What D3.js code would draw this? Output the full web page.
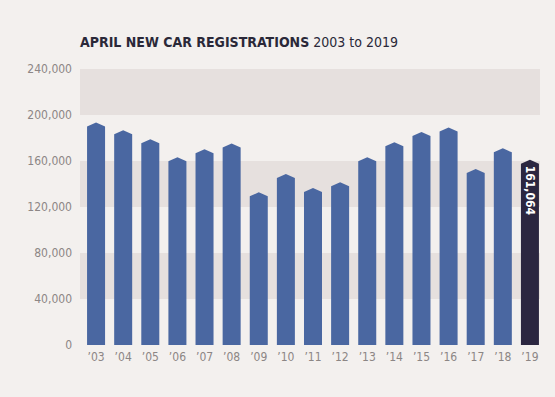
<!DOCTYPE html>
<html>
<head>
<meta charset="utf-8">
<title>April new car registrations</title>
<script src="https://cdnjs.cloudflare.com/ajax/libs/d3/7.8.5/d3.min.js"></script>
<style>
  body { margin: 0; background: #f3f0ee; }
  svg { display: block; }
  .tick-label { font-family: "DejaVu Sans Condensed", "DejaVu Sans", sans-serif; font-size: 12px; fill: #8c8685; }
</style>
</head>
<body>
<svg id="chart" width="555" height="397"></svg>
<script>
// data
var years = ["’03","’04","’05","’06","’07","’08","’09","’10","’11","’12","’13","’14","’15","’16","’17","’18","’19"];
var values = [193500, 186800, 179000, 163300, 170200, 175300, 132800, 148600, 136600, 141600, 163300, 176300, 185300, 189100, 153100, 171000, 161064];
var yTicks = [0, 40000, 80000, 120000, 160000, 200000, 240000];
var bands = [[200000, 240000], [120000, 160000], [40000, 80000]];

var svg = d3.select("#chart");
var plotLeft = 80, plotRight = 540, plotTop = 69, plotBottom = 345;

svg.append("rect").attr("width", 555).attr("height", 397).attr("fill", "#f3f0ee");

var x = d3.scaleBand().domain(years).range([82.5, 543.5]).paddingInner(0.336).paddingOuter(0.168);
var y = d3.scaleLinear().domain([0, 240000]).range([plotBottom, plotTop]);

// shaded bands
svg.selectAll("rect.band")
  .data(bands)
  .enter().append("rect")
  .attr("class", "band")
  .attr("x", plotLeft)
  .attr("width", plotRight - plotLeft)
  .attr("y", function(d) { return y(d[1]); })
  .attr("height", function(d) { return y(d[0]) - y(d[1]); })
  .attr("fill", "#e6e0de");

// bars with pointed tops
var tip = 4;
svg.selectAll("path.bar")
  .data(values)
  .enter().append("path")
  .attr("class", "bar")
  .attr("fill", function(d, i) { return i == values.length - 1 ? "#2b2640" : "#4a67a1"; })
  .attr("d", function(d, i) {
    var x0 = x(years[i]), x1 = x0 + x.bandwidth(), cx = x0 + x.bandwidth() / 2;
    var t = y(d);
    return "M" + x0 + "," + y(0) + "L" + x0 + "," + (t + tip) + "L" + cx + "," + t +
      "L" + x1 + "," + (t + tip) + "L" + x1 + "," + y(0) + "Z";
  });

// value label on last bar
var last = values.length - 1;
svg.append("text")
  .attr("transform", "translate(" + (x(years[last]) + x.bandwidth() / 2) + "," + (y(values[last]) + 6) + ") rotate(90)")
  .attr("dy", "0.35em")
  .attr("font-family", "DejaVu Sans Condensed, DejaVu Sans, sans-serif")
  .attr("font-weight", "bold")
  .attr("font-size", 12)
  .attr("fill", "#ffffff")
  .text(d3.format(",")(values[last]));

// y axis
var yAxis = d3.axisLeft(y).tickValues(yTicks).tickSize(0).tickPadding(0).tickFormat(d3.format(","));
var gy = svg.append("g").attr("transform", "translate(72,0)").call(yAxis);
gy.select(".domain").remove();
gy.selectAll("text").attr("class", "tick-label").attr("fill", null);

// x axis
var xAxis = d3.axisBottom(x).tickSize(0).tickPadding(0);
var gx = svg.append("g").attr("transform", "translate(0,352)").call(xAxis);
gx.select(".domain").remove();
gx.selectAll("text").attr("class", "tick-label").attr("fill", null);

// title
var title = svg.append("text").attr("x", 80).attr("y", 47)
  .attr("font-family", "DejaVu Sans Condensed, DejaVu Sans, sans-serif")
  .attr("font-size", 14).attr("fill", "#2a2838");
title.append("tspan").attr("font-weight", "bold").text("APRIL NEW CAR REGISTRATIONS");
title.append("tspan").text(" 2003 to 2019");
</script>
</body>
</html>
